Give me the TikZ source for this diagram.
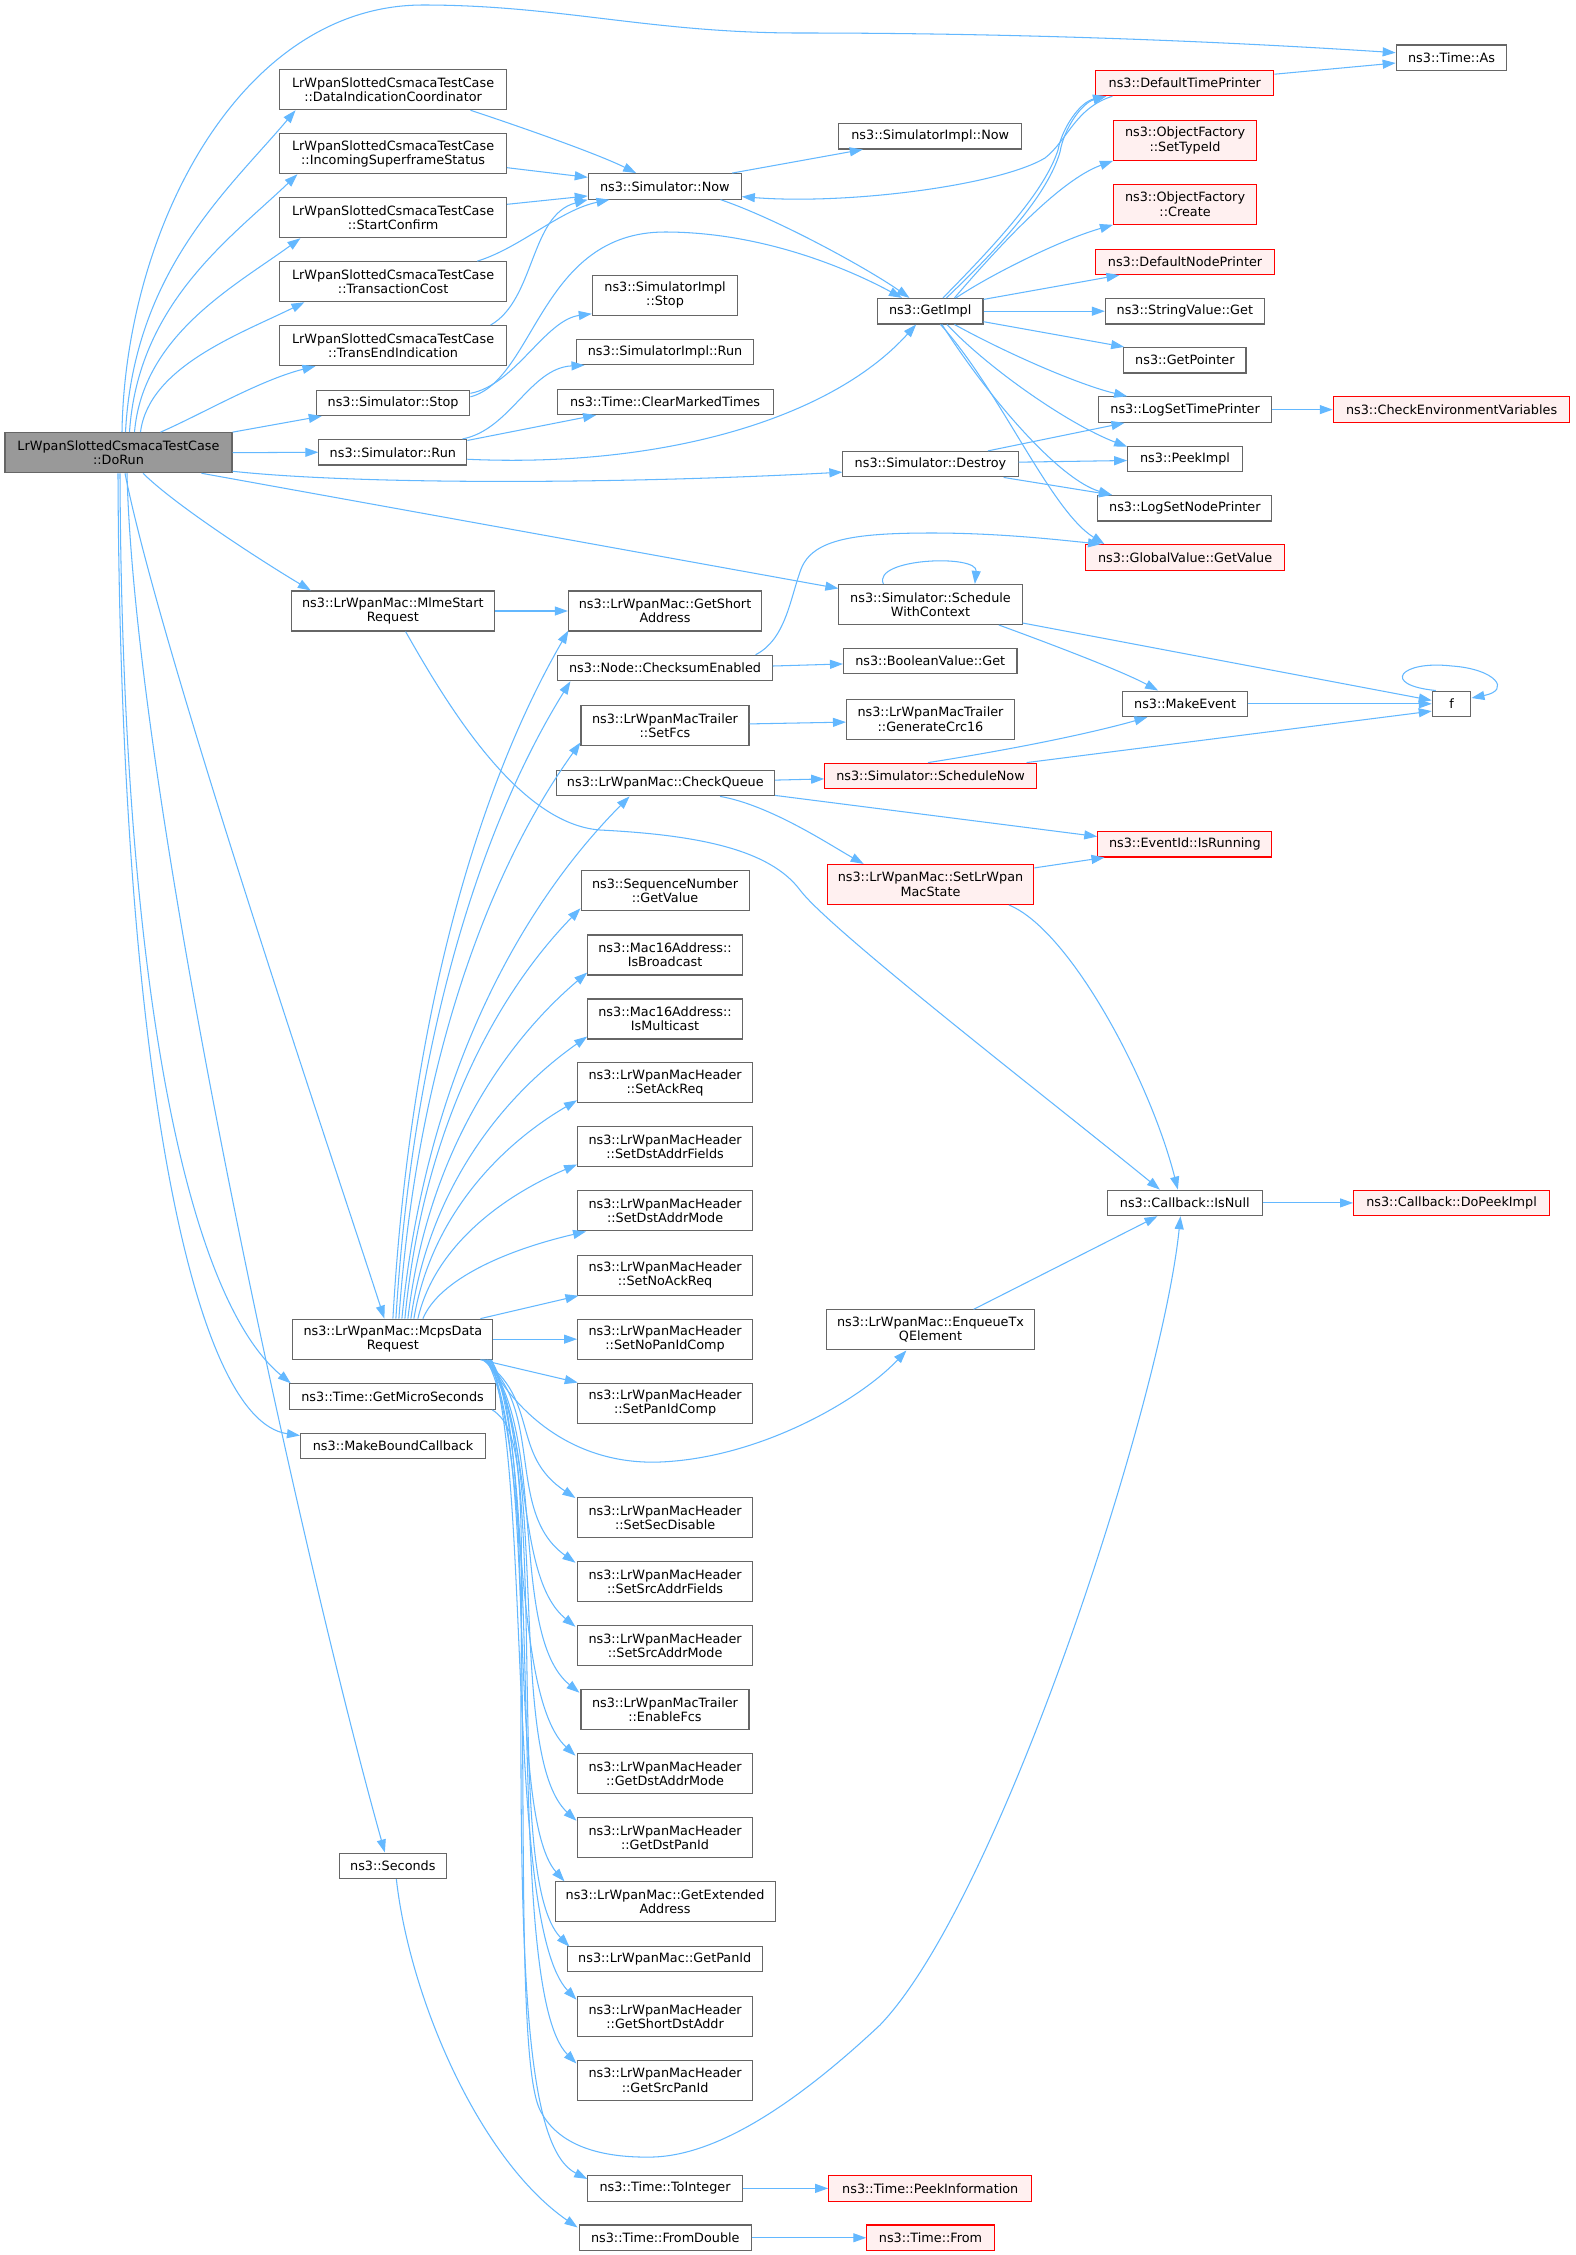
\documentclass[tikz,border=0pt]{standalone}
\usepackage{fontspec}
\newfontfamily\dvs{DejaVu Sans}
\usetikzlibrary{arrows.meta,calc}
\definecolor{eb}{HTML}{63B8FF}
\definecolor{ng}{HTML}{666666}
\definecolor{rf}{HTML}{FFF0F0}
\definecolor{rg}{HTML}{999999}
\begin{document}
\begin{tikzpicture}[x=1pt,y=-1pt,
 nd/.style={draw=ng, fill=white, line width=1.1pt, inner sep=0pt, align=center, text=black, font=\dvs\fontsize{12.8pt}{14.3pt}\selectfont},
 rd/.style={nd, draw=red, fill=rf},
 rt/.style={nd, fill=rg},
 one/.style={minimum height=25.5pt},
 two/.style={minimum height=40pt},
 ed/.style={draw=eb, line width=1.05pt, -{Triangle[length=13pt,width=9pt]}},
]
\fill[white] (0,0) rectangle (1576,2255);
\useasboundingbox (0,0) rectangle (1576,2255);

% ---------- column A
\node[rt,two,minimum width=227pt] (dorun) at (118.5,452.7) {LrWpanSlottedCsmacaTestCase\\::DoRun};
\node[nd,two,minimum width=227pt] (dic) at (393.1,89.7) {LrWpanSlottedCsmacaTestCase\\::DataIndicationCoordinator};
\node[nd,two,minimum width=227pt] (iss) at (393.1,153.7) {LrWpanSlottedCsmacaTestCase\\::IncomingSuperframeStatus};
\node[nd,two,minimum width=227pt] (sc) at (393.1,217.7) {LrWpanSlottedCsmacaTestCase\\::StartConfirm};
\node[nd,two,minimum width=227pt] (tc) at (393.1,281.7) {LrWpanSlottedCsmacaTestCase\\::TransactionCost};
\node[nd,two,minimum width=227pt] (tei) at (393.1,345.6) {LrWpanSlottedCsmacaTestCase\\::TransEndIndication};
\node[nd,one,minimum width=153.6pt] (stop) at (393.1,402.8) {ns3::Simulator::Stop};
\node[nd,one,minimum width=148pt] (run) at (392.85,452.25) {ns3::Simulator::Run};
\node[nd,two,minimum width=203pt] (mlme) at (392.85,611) {ns3::LrWpanMac::MlmeStart\\Request};
\node[nd,two,minimum width=200pt] (mcps) at (392.9,1339.15) {ns3::LrWpanMac::McpsData\\Request};
\node[nd,one,minimum width=206.6pt] (gms) at (392.6,1396.55) {ns3::Time::GetMicroSeconds};
\node[nd,one,minimum width=185.2pt] (mbc) at (393.1,1445.8) {ns3::MakeBoundCallback};
\node[nd,one,minimum width=107pt] (sec) at (392.85,1865.8) {ns3::Seconds};

% ---------- column B
\node[nd,one,minimum width=153pt] (now) at (664.8,186.35) {ns3::Simulator::Now};
\node[nd,two,minimum width=145.5pt] (sis) at (665.05,295.2) {ns3::SimulatorImpl\\::Stop};
\node[nd,one,minimum width=177pt] (sir) at (665.05,351.9) {ns3::SimulatorImpl::Run};
\node[nd,one,minimum width=216pt] (cmt) at (665.05,401.8) {ns3::Time::ClearMarkedTimes};
\node[nd,two,minimum width=193.3pt] (gsa) at (665.05,611) {ns3::LrWpanMac::GetShort\\Address};
\node[nd,one,minimum width=214.7pt] (cse) at (665.05,668) {ns3::Node::ChecksumEnabled};
\node[nd,two,minimum width=168pt] (sfcs) at (665,725.9) {ns3::LrWpanMacTrailer\\::SetFcs};
\node[nd,one,minimum width=218.4pt] (cq) at (665.3,783.1) {ns3::LrWpanMac::CheckQueue};
\node[nd,two,minimum width=168pt] (sqn) at (665.05,890.75) {ns3::SequenceNumber\\::GetValue};
\node[nd,two,minimum width=154.5pt] (isb) at (665.05,955) {ns3::Mac16Address::\\IsBroadcast};
\node[nd,two,minimum width=154.5pt] (ism) at (665.05,1018.95) {ns3::Mac16Address::\\IsMulticast};
\node[nd,two,minimum width=175pt] (sar) at (665.1,1082.7) {ns3::LrWpanMacHeader\\::SetAckReq};
\node[nd,two,minimum width=175pt] (sdaf) at (665.1,1146.9) {ns3::LrWpanMacHeader\\::SetDstAddrFields};
\node[nd,two,minimum width=175pt] (sdam) at (665.1,1210.9) {ns3::LrWpanMacHeader\\::SetDstAddrMode};
\node[nd,two,minimum width=175pt] (snar) at (665.1,1275.15) {ns3::LrWpanMacHeader\\::SetNoAckReq};
\node[nd,two,minimum width=175pt] (snpc) at (665.1,1339.15) {ns3::LrWpanMacHeader\\::SetNoPanIdComp};
\node[nd,two,minimum width=175pt] (spc) at (665.1,1403.1) {ns3::LrWpanMacHeader\\::SetPanIdComp};
\node[nd,two,minimum width=175pt] (ssd) at (665.1,1517.55) {ns3::LrWpanMacHeader\\::SetSecDisable};
\node[nd,two,minimum width=175pt] (ssaf) at (665.1,1581.85) {ns3::LrWpanMacHeader\\::SetSrcAddrFields};
\node[nd,two,minimum width=175pt] (ssam) at (665.1,1645.6) {ns3::LrWpanMacHeader\\::SetSrcAddrMode};
\node[nd,two,minimum width=168pt] (efcs) at (665,1709.85) {ns3::LrWpanMacTrailer\\::EnableFcs};
\node[nd,two,minimum width=175pt] (gdam) at (665.1,1773.65) {ns3::LrWpanMacHeader\\::GetDstAddrMode};
\node[nd,two,minimum width=175pt] (gdpi) at (665.1,1837.9) {ns3::LrWpanMacHeader\\::GetDstPanId};
\node[nd,two,minimum width=220pt] (gea) at (665.05,1901.9) {ns3::LrWpanMac::GetExtended\\Address};
\node[nd,one,minimum width=195pt] (gpi) at (664.75,1958.95) {ns3::LrWpanMac::GetPanId};
\node[nd,two,minimum width=175pt] (gsda) at (665.1,2016.85) {ns3::LrWpanMacHeader\\::GetShortDstAddr};
\node[nd,two,minimum width=175pt] (gspi) at (665.1,2080.35) {ns3::LrWpanMacHeader\\::GetSrcPanId};
\node[nd,one,minimum width=154.5pt] (toi) at (665.05,2188.35) {ns3::Time::ToInteger};
\node[nd,one,minimum width=172.4pt] (fd) at (665.3,2237.75) {ns3::Time::FromDouble};

% ---------- column C
\node[nd,one,minimum width=182.7pt] (sin) at (930.25,136.2) {ns3::SimulatorImpl::Now};
\node[nd,one,minimum width=105.5pt] (gi) at (930.25,311.2) {ns3::GetImpl};
\node[nd,one,minimum width=175.2pt] (dst) at (930.5,464.15) {ns3::Simulator::Destroy};
\node[nd,two,minimum width=183.2pt] (swc) at (930.5,604.45) {ns3::Simulator::Schedule\\WithContext};
\node[nd,one,minimum width=173.5pt] (bvg) at (930.25,660.95) {ns3::BooleanValue::Get};
\node[nd,two,minimum width=168pt] (gcrc) at (930.5,719.1) {ns3::LrWpanMacTrailer\\::GenerateCrc16};
\node[rd,one,minimum width=211.6pt] (schn) at (930.5,775.9) {ns3::Simulator::ScheduleNow};
\node[rd,two,minimum width=206.6pt] (slms) at (930.5,884.45) {ns3::LrWpanMac::SetLrWpan\\MacState};
\node[nd,two,minimum width=207.6pt] (etq) at (930.5,1329.9) {ns3::LrWpanMac::EnqueueTx\\QElement};
\node[rd,one,minimum width=203.1pt] (pki) at (930.25,2188.35) {ns3::Time::PeekInformation};
\node[rd,one,minimum width=127.4pt] (tfr) at (930.5,2237.75) {ns3::Time::From};

% ---------- column D
\node[rd,one,minimum width=178.2pt] (dtp) at (1184.8,82.9) {ns3::DefaultTimePrinter};
\node[rd,two,minimum width=143.1pt] (otid) at (1185.05,140.35) {ns3::ObjectFactory\\::SetTypeId};
\node[rd,two,minimum width=143.1pt] (ofc) at (1185.05,204.3) {ns3::ObjectFactory\\::Create};
\node[rd,one,minimum width=178.7pt] (dnp) at (1185.05,261.8) {ns3::DefaultNodePrinter};
\node[nd,one,minimum width=158.9pt] (svg) at (1184.85,311.2) {ns3::StringValue::Get};
\node[nd,one,minimum width=122.3pt] (gp) at (1184.85,360.2) {ns3::GetPointer};
\node[nd,one,minimum width=173.6pt] (lstp) at (1185.1,409.6) {ns3::LogSetTimePrinter};
\node[nd,one,minimum width=114.7pt] (pi) at (1185.05,459) {ns3::PeekImpl};
\node[nd,one,minimum width=174.1pt] (lsnp) at (1184.85,508.25) {ns3::LogSetNodePrinter};
\node[rd,one,minimum width=199pt] (gvgv) at (1185.1,557.4) {ns3::GlobalValue::GetValue};
\node[nd,one,minimum width=124.8pt] (me) at (1185.1,703.8) {ns3::MakeEvent};
\node[rd,one,minimum width=174.1pt] (eir) at (1184.85,844.2) {ns3::EventId::IsRunning};
\node[nd,one,minimum width=154.8pt] (cbn) at (1184.8,1202.9) {ns3::Callback::IsNull};

% ---------- column E
\node[nd,one,minimum width=110.7pt] (tas) at (1451.55,57.7) {ns3::Time::As};
\node[rd,one,minimum width=236.6pt] (cev) at (1451.6,409.6) {ns3::CheckEnvironmentVariables};
\node[nd,one,minimum width=38.6pt] (f) at (1451.6,703.8) {f};
\node[rd,one,minimum width=195.9pt] (cdpi) at (1451.55,1202.9) {ns3::Callback::DoPeekImpl};

% ================= edges
% from DoRun
\draw[ed] ($(dorun.north)+(3.5,0)$) .. controls (125,230) and (240,5) .. (423,5) .. controls (560,5) and (650,33) .. (800,33) .. controls (1000,33) and (1200,40) .. ($(tas.west)+(0,-5)$);
\draw[ed] ($(dorun.north)+(7,0)$) .. controls (134,271) and (227.8,190.3) .. ($(dic.south west)+(16.5,0)$);
\draw[ed] ($(dorun.north)+(11,0)$) .. controls (138,303) and (230.6,238.3) .. ($(iss.south west)+(18.4,0)$);
\draw[ed] ($(dorun.north)+(16,0)$) .. controls (142.8,335) and (234.4,286.3) .. ($(sc.south west)+(21.4,0)$);
\draw[ed] ($(dorun.north)+(22,0)$) .. controls (148.7,367) and (239.2,334.3) .. ($(tc.south west)+(25.4,0)$);
\draw[ed] ($(dorun.north)+(42,0)$) .. controls (200,415) and (260,380) .. ($(tei.south west)+(36.4,0)$);
\draw[ed] (dorun.north east) -- ($(stop.south west)+(6,0)$);
\draw[ed] (dorun.east) -- (run.west);
\draw[ed] ($(dorun.south east)+(0,-2)$) .. controls (350,484) and (600,485) .. ($(dst.west)+(0,8)$);
\draw[ed] ($(dorun.south)+(83,0)$) -- ($(swc.west)+(0,-16)$);
\draw[ed] ($(dorun.south)+(24.5,0)$) .. controls (175,505) and (260,560) .. ($(mlme.north west)+(20,0)$);
\draw[ed] ($(dorun.south)+(6.5,0)$) .. controls (160,650) and (330,1150) .. ($(mcps.north west)+(92,0)$);
\draw[ed] ($(dorun.south)+(1.5,0)$) .. controls (122,1000) and (190,1300) .. ($(gms.north west)+(2,0)$);
\draw[ed] ($(dorun.south)+(-0.5,0)$) .. controls (120,1050) and (190,1420) .. ($(mbc.north west)+(0,3)$);
\draw[ed] ($(dorun.south)+(8.5,0)$) .. controls (135,800) and (300,1550) .. ($(sec.north)+(-8,0)$);

% Stop / Run
\draw[ed] ($(stop.east)+(0,-9.5)$) .. controls (515,385) and (545,320) .. ($(sis.south west)+(0,-2)$);
\draw[ed] ($(stop.east)+(0,-6)$) .. controls (535,380) and (540,232) .. (665,232) .. controls (770,232) and (860,275) .. ($(gi.north west)+(25,0)$);
\draw[ed] ($(run.north east)+(-5,0)$) .. controls (510,430) and (530,368) .. ($(sir.south west)+(8.5,0)$);
\draw[ed] ($(run.north east)+(0,1.5)$) -- ($(cmt.south west)+(39.6,0)$);
\draw[ed] ($(run.east)+(0,7)$) .. controls (660,468) and (830,420) .. ($(gi.south west)+(39.2,0)$);

% to Simulator::Now
\draw[ed] ($(dic.south east)+(-36.6,0)$) .. controls (530,130) and (600,155) .. ($(now.north west)+(48.4,0)$);
\draw[ed] ($(iss.east)+(0,14)$) -- ($(now.west)+(0,-9)$);
\draw[ed] ($(sc.east)+(0,-13.4)$) -- ($(now.west)+(0,9.6)$);
\draw[ed] ($(tc.north east)+(-29.9,0)$) .. controls (520,248) and (560,210) .. ($(now.south west)+(21.7,0)$);
\draw[ed] ($(tei.north east)+(-16.6,0)$) .. controls (535,300) and (530,215) .. (now.south west);
\draw[ed] ($(now.north east)+(-9.6,0)$) -- ($(sin.south west)+(24.4,0)$);
\draw[ed] ($(now.south east)+(-21.3,0)$) .. controls (780,220) and (870,270) .. ($(gi.north west)+(32.5,0)$);
\draw[ed] ($(dtp.south west)+(17.3,0)$) .. controls (1075,108) and (1068,140) .. (1045,158) .. controls (1000,185) and (850,205) .. ($(now.east)+(0,10.3)$);

% from GetImpl
\draw[ed] ($(gi.north west)+(66,0)$) .. controls (1000,240) and (1045,190) .. (1058,150) .. controls (1062,128) and (1080,102) .. ($(dtp.south west)+(11,0)$);
\draw[ed] ($(gi.north west)+(69.5,0)$) .. controls (1004,243) and (1048,193) .. (1060,152) .. controls (1064,128) and (1082,103) .. ($(dtp.south west)+(11,0)$);
\draw[ed] ($(gi.north west)+(77.5,0)$) .. controls (1000,245) and (1060,180) .. (otid.south west);
\draw[ed] ($(gi.north west)+(79,0)$) .. controls (990,275) and (1060,240) .. (ofc.south west);
\draw[ed] ($(gi.north east)+(0,1.5)$) -- ($(dnp.south west)+(24.3,0)$);
\draw[ed] (gi.east) -- (svg.west);
\draw[ed] ($(gi.south east)+(0,-2.8)$) -- ($(gp.north west)+(1,0)$);
\draw[ed] ($(gi.south west)+(77.5,0)$) .. controls (1010,355) and (1080,385) .. ($(lstp.north west)+(29.4,0)$);
\draw[ed] ($(gi.south west)+(70,0)$) .. controls (990,370) and (1070,425) .. ($(pi.north west)+(0,1)$);
\draw[ed] ($(gi.south west)+(65,0)$) .. controls (990,400) and (1060,480) .. ($(lsnp.north west)+(14.7,0)$);
\draw[ed] ($(gi.south west)+(63.5,0)$) .. controls (1000,390) and (1050,510) .. ($(gvgv.north west)+(19.4,0)$);
\draw[ed] (lstp.east) -- (cev.west);
\draw[ed] ($(dtp.east)+(0,-8.7)$) -- ($(tas.west)+(0,5.3)$);

% from Destroy
\draw[ed] ($(dst.north)+(57.5,0)$) -- ($(lstp.south west)+(26.7,0)$);
\draw[ed] ($(dst.east)+(0,-2)$) -- ($(pi.west)+(0,1.5)$);
\draw[ed] ($(dst.south east)+(-15,0)$) -- ($(lsnp.north west)+(14.7,0)$);

% ScheduleWithContext, MakeEvent, f
\draw[ed] ($(swc.north west)+(45,0)$) .. controls (872,558) and (978,554) .. ($(swc.north west)+(136.5,0)$);
\draw[ed] ($(swc.south east)+(-23.8,0)$) .. controls (1040,640) and (1120,670) .. ($(me.north)+(-27,0)$);
\draw[ed] ($(swc.south east)+(0,-2)$) -- ($(f.west)+(0,-3.4)$);
\draw[ed] (me.east) -- (f.west);
\draw[ed] ($(f.north west)+(4,0)$) .. controls (1380,685) and (1400,660) .. (1452,666) .. controls (1495,669) and (1512,690) .. ($(f.east)+(0,-5.8)$);

% ChecksumEnabled, SetFcs
\draw[ed] ($(cse.north east)+(-17.4,0)$) .. controls (785,640) and (790,600) .. (800,572) .. controls (810,540) and (850,533) .. (932,533) .. controls (1000,533) and (1060,540) .. ($(gvgv.north west)+(16,0)$);
\draw[ed] ($(cse.east)+(0,-2)$) -- ($(bvg.west)+(0,3)$);
\draw[ed] ($(sfcs.east)+(0,-2)$) -- ($(gcrc.west)+(0,3)$);

% CheckQueue, ScheduleNow, SetLrWpanMacState
\draw[ed] ($(cq.east)+(0,-3)$) -- ($(schn.west)+(0,3)$);
\draw[ed] ($(cq.south east)+(0,-1)$) -- ($(eir.west)+(0,-7.7)$);
\draw[ed] ($(cq.south east)+(-55,0)$) .. controls (770,805) and (830,845) .. ($(slms.north west)+(37,0)$);
\draw[ed] ($(schn.north)+(-2.5,0)$) .. controls (1040,745) and (1110,728) .. ($(me.south west)+(25.3,0)$);
\draw[ed] ($(schn.north east)+(-10.3,0)$) -- ($(f.south west)+(0,-6)$);
\draw[ed] ($(slms.north east)+(0,4)$) -- ($(eir.south west)+(7.2,0)$);
\draw[ed] ($(slms.south east)+(-25.4,0)$) .. controls (1070,930) and (1150,1080) .. ($(cbn.north west)+(71,0)$);

% MlmeStartRequest
\draw[ed] (mlme.east) -- (gsa.west);
\draw[ed] ($(mlme.south)+(12.75,0)$) .. controls (450,710) and (520,824) .. (600,830) .. controls (700,835) and (770,850) .. (800,890) .. controls (830,930) and (1050,1100) .. ($(cbn.north west)+(53,0)$);

% McpsDataRequest fan up
\draw[ed] (mcps.north) .. controls (410.5,1009.2) and (481,781.7) .. ($(gsa.south west)+(0.6,-1)$);
\draw[ed] ($(mcps.north)+(3,0)$) .. controls (413.4,1031.9) and (483.5,821.1) .. ($(cse.south west)+(13.3,0)$);
\draw[ed] ($(mcps.north)+(6,0)$) .. controls (417.1,1059.3) and (490,868.6) .. ($(sfcs.south west)+(0,-4)$);
\draw[ed] ($(mcps.north)+(9,0)$) .. controls (424.7,1083.7) and (516,910.9) .. ($(cq.south west)+(74,0)$);
\draw[ed] ($(mcps.north)+(12,0)$) .. controls (422.5,1134) and (493,998.2) .. ($(sqn.south west)+(0,-3)$);
\draw[ed] ($(mcps.north)+(15,0)$) .. controls (425.9,1163.1) and (497.9,1048.5) .. ($(isb.south west)+(0,-3)$);
\draw[ed] ($(mcps.north)+(18,0)$) .. controls (428.6,1191.9) and (499.4,1098.4) .. ($(ism.south west)+(0,-3)$);
\draw[ed] ($(mcps.north)+(21,0)$) .. controls (430.3,1220.4) and (495.8,1147.9) .. ($(sar.south west)+(0,-3)$);
\draw[ed] ($(mcps.north)+(25,0)$) .. controls (433.9,1249.4) and (497.8,1198.2) .. ($(sdaf.south west)+(0,-3)$);
\draw[ed] ($(mcps.north)+(30,0)$) .. controls (439.3,1279.6) and (504.8,1250.4) .. ($(sdam.south west)+(9,0)$);
\draw[ed] ($(mcps.north east)+(-13,0)$) -- ($(snar.south west)+(1.4,0)$);
\draw[ed] (mcps.east) -- (snpc.west);
\draw[ed] ($(mcps.south east)+(-13,0)$) -- ($(spc.north west)+(0.7,0)$);

% McpsDataRequest fan down
\draw[ed] ($(mcps.south east)+(-11,0)$) .. controls (540,1400) and (510,1454.4) .. ($(ssd.north west)+(-1.6,1)$);
\draw[ed] ($(mcps.south east)+(-10,0)$) .. controls (545,1409.6) and (505,1512.6) .. ($(ssaf.north west)+(-1.6,1.4)$);
\draw[ed] ($(mcps.south east)+(-9,0)$) .. controls (535,1419.2) and (512,1575) .. ($(ssam.north west)+(-1.6,1.7)$);
\draw[ed] ($(mcps.south east)+(-8,0)$) .. controls (548,1429) and (508,1635) .. ($(efcs.north west)+(-1,3.4)$);
\draw[ed] ($(mcps.south east)+(-7,0)$) .. controls (530,1438.5) and (510,1695) .. ($(gdam.north west)+(-1.6,2.6)$);
\draw[ed] ($(mcps.south east)+(-6,0)$) .. controls (552,1448.3) and (505,1755) .. ($(gdpi.north west)+(-0.6,3.4)$);
\draw[ed] ($(mcps.south east)+(-5,0)$) .. controls (538,1457.4) and (505,1815) .. ($(gea.north west)+(10,0)$);
\draw[ed] ($(mcps.south east)+(-4,0)$) .. controls (555,1467.2) and (500,1875) .. ($(gpi.north west)+(2.7,1)$);
\draw[ed] ($(mcps.south east)+(-3,0)$) .. controls (532,1475) and (505,1925) .. ($(gsda.north west)+(-0.6,3.4)$);
\draw[ed] ($(mcps.south east)+(-2,0)$) .. controls (548,1484.75) and (503,1990) .. ($(gspi.north west)+(-0.6,3.7)$);
\draw[ed] ($(mcps.south east)+(-6,0)$) .. controls (520,1420) and (580,1465) .. (660,1462) .. controls (760,1458) and (860,1400) .. ($(etq.south west)+(80.3,0)$);
\draw[ed] ($(mcps.south east)+(-3,0)$) .. controls (545,1430) and (505,2040) .. (540,2110) .. controls (560,2150) and (610,2158) .. (653,2157) .. controls (720,2155) and (800,2100) .. (880,2025) .. controls (1000,1900) and (1162,1400) .. ($(cbn.south west)+(73.6,0)$);
\draw[ed] ($(etq.north east)+(-61.3,0)$) -- ($(cbn.south west)+(50.6,0)$);
\draw[ed] (cbn.east) -- (cdpi.west);

% Time helpers
\draw[ed] ($(gms.south east)+(-4.2,0)$) .. controls (525,1430) and (522,1500) .. (521,1700) .. controls (520,2000) and (530,2150) .. ($(toi.west)+(0,-9.4)$);
\draw[ed] ($(sec.south)+(3.5,0)$) .. controls (410,2000) and (480,2160) .. ($(fd.north west)+(-1,3)$);
\draw[ed] (toi.east) -- (pki.west);
\draw[ed] (fd.east) -- (tfr.west);
\end{tikzpicture}
\end{document}
